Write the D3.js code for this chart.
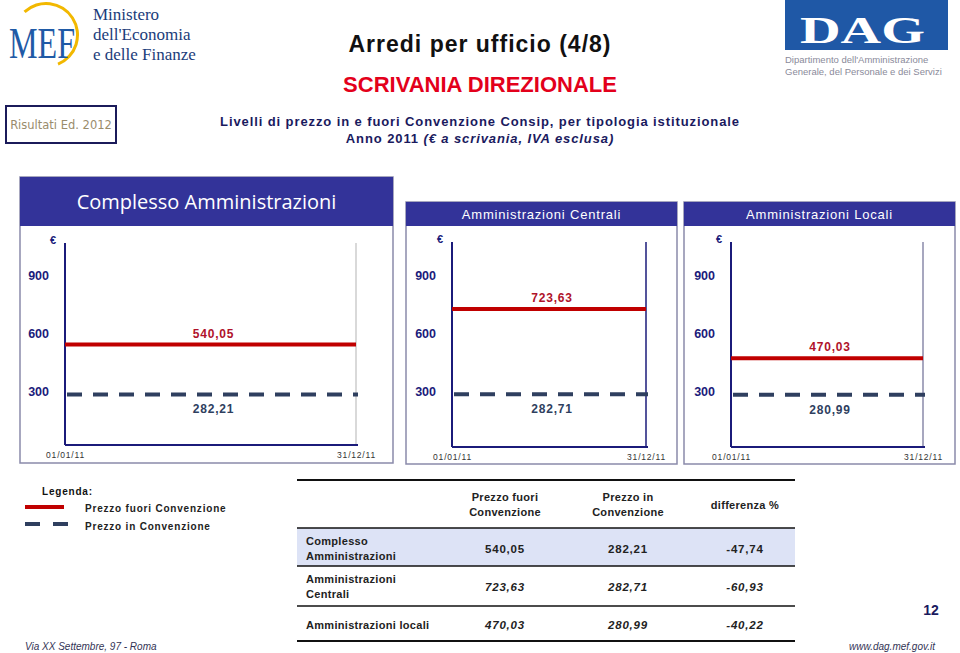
<!DOCTYPE html>
<html><head><meta charset="utf-8">
<script src="https://cdn.jsdelivr.net/npm/d3@7"></script>
<style>
body{margin:0;background:#fff;}
svg{display:block;font-family:"Liberation Sans",Arial,sans-serif;}
</style></head>
<body>
<svg id="c" width="960" height="653"></svg>
<script>
// ---- data ----
const panelNames = ["Complesso Amministrazioni", "Amministrazioni Centrali", "Amministrazioni Locali"];
const prezzoFuori = [540.05, 723.63, 470.03];
const prezzoIn = [282.21, 282.71, 280.99];
const differenza = [-47.74, -60.93, -40.22];
const yTickValues = [300, 600, 900];
const xDates = ["2011-01-01", "2011-12-31"];
const xTickLabels = ["01/01/11", "31/12/11"];
const tableRowLabels = [["Complesso", "Amministrazioni"], ["Amministrazioni", "Centrali"], ["Amministrazioni locali"]];
const tableHeaders = [["Prezzo fuori", "Convenzione"], ["Prezzo in", "Convenzione"], ["differenza %"]];
const legendLabels = ["Prezzo fuori Convenzione", "Prezzo in Convenzione"];

// ---- style / layout ----
const NAVY = "#1b1b7a", HEAD = "#333399", RED = "#c00000", DASH = "#2f3f5f", BORDER = "#8a8aaa";
const SERIF = "'Liberation Serif','DejaVu Serif',serif";
const fmt = v => d3.format(".2f")(v).replace(".", ",").replace("\u2212", "-");
const parse = d3.timeParse("%Y-%m-%d");
const layout = [
  {bx:20, by:177, bw:373, bh:286, hh:49, hf:20, ax:65, rx:356, top:243, bottom:445, rc:"#cccccc"},
  {bx:406, by:202, bw:271, bh:262, hh:24, hf:13, ax:452, rx:646, top:242, bottom:447, rc:NAVY},
  {bx:684, by:202, bw:271, bh:262, hh:24, hf:13, ax:731, rx:923, top:242, bottom:447, rc:BORDER}
];

const svg = d3.select("#c");

// ---- header / logos ----
const mef = svg.append("g");
mef.append("path").attr("transform", "translate(46,35)")
  .attr("d", d3.arc().innerRadius(30).outerRadius(33).startAngle(-0.75).endAngle(2.75)())
  .attr("fill", "#f2b800");
mef.append("text").attr("x", 9).attr("y", 58).style("font-family", SERIF).attr("font-size", 44)
  .attr("textLength", 66).attr("lengthAdjust", "spacingAndGlyphs").attr("fill", "#1f5aa6").text("MEF");
["Ministero", "dell'Economia", "e delle Finanze"].forEach((t, i) =>
  mef.append("text").attr("x", 93).attr("y", 20 + i * 20).style("font-family", SERIF).attr("font-size", 17).attr("fill", "#1b3c7a").text(t));

svg.append("rect").attr("x", 785).attr("y", 0).attr("width", 163).attr("height", 50).attr("fill", "#1f58a6");
svg.append("text").attr("x", 800).attr("y", 43).style("font-family", SERIF).attr("font-size", 38).attr("font-weight", "bold")
  .attr("fill", "#fff").attr("textLength", 125).attr("lengthAdjust", "spacingAndGlyphs").text("DAG");
svg.append("text").attr("x", 785).attr("y", 63).attr("font-size", 9.5).attr("fill", "#8a8a9a").text("Dipartimento dell'Amministrazione");
svg.append("text").attr("x", 785).attr("y", 75).attr("font-size", 9.5).attr("fill", "#8a8a9a").text("Generale, del Personale e dei Servizi");

svg.append("rect").attr("x", 6).attr("y", 106).attr("width", 110).attr("height", 37).attr("fill", "none").attr("stroke", "#1b1b5a").attr("stroke-width", 2);
svg.append("text").attr("x", 61).attr("y", 129).attr("text-anchor", "middle").style("font-family", "'DejaVu Sans',sans-serif").attr("font-size", 11.5).attr("fill", "#9a8c6c").text("Risultati Ed. 2012");

svg.append("text").attr("x", 480).attr("y", 52).attr("text-anchor", "middle").attr("font-size", 23).attr("font-weight", "bold").attr("fill", "#111").attr("letter-spacing", 1).text("Arredi per ufficio (4/8)");
svg.append("text").attr("x", 480).attr("y", 92).attr("text-anchor", "middle").attr("font-size", 22).attr("font-weight", "bold").attr("fill", "#e3001b").text("SCRIVANIA DIREZIONALE");
svg.append("text").attr("x", 480).attr("y", 126).attr("text-anchor", "middle").attr("font-size", 13).attr("font-weight", "bold").attr("fill", "#1a1a5e").attr("letter-spacing", 0.9).text("Livelli di prezzo in e fuori Convenzione Consip, per tipologia istituzionale");
const sub = svg.append("text").attr("x", 480).attr("y", 143).attr("text-anchor", "middle").attr("font-size", 13).attr("font-weight", "bold").attr("fill", "#1a1a5e").attr("letter-spacing", 0.9);
sub.append("tspan").text("Anno 2011 ");
sub.append("tspan").attr("font-style", "italic").text("(€ a scrivania, IVA esclusa)");

// ---- panels ----
panelNames.forEach((name, i) => {
  const L = layout[i];
  const g = svg.append("g");
  g.append("rect").attr("x", L.bx).attr("y", L.by).attr("width", L.bw).attr("height", L.bh).attr("fill", "#fff").attr("stroke", BORDER).attr("stroke-width", 1.5);
  g.append("rect").attr("x", L.bx).attr("y", L.by).attr("width", L.bw).attr("height", L.hh).attr("fill", HEAD);
  g.append("text").attr("x", L.bx + L.bw / 2).attr("y", L.by + L.hh / 2 + L.hf * 0.36).attr("text-anchor", "middle")
    .style("font-family", i === 0 ? "'Open Sans',sans-serif" : "'Liberation Sans',Arial,sans-serif")
    .attr("font-size", L.hf).attr("fill", "#fff").attr("letter-spacing", i === 0 ? 0 : 0.8).text(name);

  const x = d3.scaleTime().domain(xDates.map(parse)).range([L.ax, L.rx]);
  const y = d3.scaleLinear().domain([0, 900]).range([449, 275]);

  g.append("line").attr("x1", L.rx).attr("x2", L.rx).attr("y1", L.top).attr("y2", L.bottom).attr("stroke", L.rc).attr("stroke-width", 1.5);

  const ya = g.append("g").attr("transform", `translate(${L.ax},0)`)
    .call(d3.axisLeft(y).tickValues(yTickValues).tickSize(0).tickPadding(16).tickFormat(d3.format("d")));
  ya.select(".domain").remove();
  ya.selectAll("text").attr("font-size", 12.5).attr("font-weight", "bold").attr("fill", NAVY).style("font-family", "'Liberation Sans',Arial,sans-serif");
  g.append("line").attr("x1", L.ax).attr("x2", L.ax).attr("y1", L.top).attr("y2", L.bottom).attr("stroke", NAVY).attr("stroke-width", 2);
  g.append("text").attr("x", L.ax - 12).attr("y", L.top + 1).attr("text-anchor", "middle").attr("font-size", 11).attr("font-weight", "bold").attr("fill", NAVY).text("€");

  const xa = g.append("g").attr("transform", `translate(0,${L.bottom})`)
    .call(d3.axisBottom(x).tickValues(xDates.map(parse)).tickSize(0).tickPadding(7).tickFormat((d, k) => xTickLabels[k]));
  xa.select(".domain").remove();
  xa.selectAll("text").attr("font-size", 8.5).attr("fill", "#333").attr("letter-spacing", 0.8).style("font-family", "'Liberation Sans',Arial,sans-serif");
  g.append("line").attr("x1", L.ax).attr("x2", L.rx + 2).attr("y1", L.bottom).attr("y2", L.bottom).attr("stroke", NAVY).attr("stroke-width", 2);

  const line = d3.line().x(d => x(d.date)).y(d => y(d.value));
  const fuori = xDates.map(d => ({date: parse(d), value: prezzoFuori[i]}));
  const inConv = xDates.map(d => ({date: parse(d), value: prezzoIn[i]}));
  g.append("path").datum(fuori).attr("d", line).attr("fill", "none").attr("stroke", RED).attr("stroke-width", 4);
  g.append("path").datum(inConv).attr("d", line).attr("fill", "none").attr("stroke", DASH).attr("stroke-width", 4).attr("stroke-dasharray", "15,11").attr("transform", "translate(2,0)");

  const cx = (L.ax + L.rx) / 2 + 3;
  g.append("text").attr("x", cx).attr("y", y(prezzoFuori[i]) - 7).attr("text-anchor", "middle").attr("font-size", 12).attr("font-weight", "bold").attr("fill", "#b0122a").attr("letter-spacing", 0.8).text(fmt(prezzoFuori[i]));
  g.append("text").attr("x", cx).attr("y", y(prezzoIn[i]) + 19).attr("text-anchor", "middle").attr("font-size", 12).attr("font-weight", "bold").attr("fill", DASH).attr("letter-spacing", 0.8).text(fmt(prezzoIn[i]));
});

// ---- legend ----
svg.append("text").attr("x", 42).attr("y", 495).attr("font-size", 10).attr("font-weight", "bold").attr("fill", "#111").attr("letter-spacing", 0.8).text("Legenda:");
svg.append("line").attr("x1", 25).attr("x2", 64).attr("y1", 507).attr("y2", 507).attr("stroke", RED).attr("stroke-width", 4);
svg.append("line").attr("x1", 25).attr("x2", 68).attr("y1", 524).attr("y2", 524).attr("stroke", DASH).attr("stroke-width", 4).attr("stroke-dasharray", "15,13");
legendLabels.forEach((t, k) => svg.append("text").attr("x", 85).attr("y", 512 + k * 18).attr("font-size", 10).attr("font-weight", "bold").attr("fill", "#222").attr("letter-spacing", 0.8).text(t));

// ---- table ----
const colX = [505, 628, 745];
const tb = svg.append("g");
tb.append("rect").attr("x", 297).attr("y", 528).attr("width", 498).attr("height", 38).attr("fill", "#dde3f6");
[[480, 2], [528, 1.5], [566, 1.5], [606, 1.5], [641, 2]].forEach(([yy, w]) =>
  tb.append("line").attr("x1", 297).attr("x2", 795).attr("y1", yy).attr("y2", yy).attr("stroke", "#111").attr("stroke-width", w));
tableHeaders.forEach((h, k) => {
  h.forEach((t, j) => tb.append("text").attr("x", colX[k]).attr("y", h.length === 1 ? 509 : 501 + j * 15).attr("text-anchor", "middle")
    .attr("font-size", 11).attr("font-weight", "bold").attr("fill", "#222").attr("letter-spacing", 0.3).text(t));
});
const rowMid = [549, 587, 625];
tableRowLabels.forEach((lab, r) => {
  lab.forEach((t, j) => tb.append("text").attr("x", 306).attr("y", lab.length === 1 ? rowMid[r] + 4 : rowMid[r] - 4 + j * 15)
    .attr("font-size", 11).attr("font-weight", "bold").attr("fill", "#222").attr("letter-spacing", 0.3).text(t));
  [prezzoFuori[r], prezzoIn[r], differenza[r]].forEach((v, k) =>
    tb.append("text").attr("x", colX[k]).attr("y", rowMid[r] + 4).attr("text-anchor", "middle")
      .attr("font-size", 11.5).attr("font-weight", "bold").attr("font-style", r === 0 ? "normal" : "italic")
      .attr("fill", "#222").attr("letter-spacing", 0.8).text(fmt(v)));
});

// ---- footer ----
svg.append("text").attr("x", 931).attr("y", 615).attr("text-anchor", "middle").attr("font-size", 14).attr("font-weight", "bold").attr("fill", "#1a1a5e").text("12");
svg.append("text").attr("x", 25).attr("y", 650).attr("font-size", 10).attr("font-style", "italic").attr("fill", "#333355").text("Via XX Settembre, 97 - Roma");
svg.append("text").attr("x", 935).attr("y", 650).attr("text-anchor", "end").attr("font-size", 10).attr("font-style", "italic").attr("fill", "#333355").text("www.dag.mef.gov.it");
</script>
</body></html>
